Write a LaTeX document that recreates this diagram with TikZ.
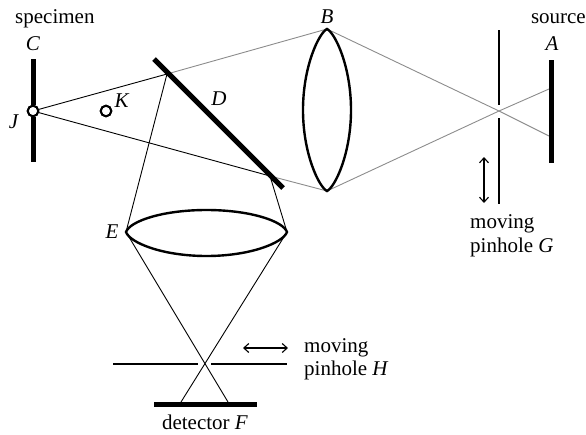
\documentclass[tikz,border=0pt]{standalone}
\usepackage{fontspec}
\setmainfont{Liberation Serif}
\usetikzlibrary{arrows.meta}
\tikzset{
  x=1pt,y=-1pt,
  lbl/.style={inner sep=0pt,font=\fontsize{21}{24}\selectfont},
  ray/.style={line width=0.9pt,black},
  gray ray/.style={line width=0.9pt,black!45},
  thickbar/.style={line width=5pt},
  slit/.style={line width=2.7pt},
  lens/.style={line width=2.4pt},
  spot/.style={circle,draw,fill=white,line width=2pt,minimum size=10.5pt,inner sep=0pt},
  move/.style={line width=1.1pt,{Straight Barb[length=5pt,width=9pt]}-{Straight Barb[length=5pt,width=9pt]}}
}
\begin{document}
\begin{tikzpicture}
\useasboundingbox (0,0) rectangle (586,434);
% points
\coordinate (C1) at (33,59); \coordinate (C2) at (33,162);
\coordinate (D1) at (154,59); \coordinate (D2) at (283,188);
\coordinate (M1) at (167,74); \coordinate (M2) at (270,176);
\coordinate (Bt) at (327,29); \coordinate (Bb) at (327,191);
\coordinate (Bl) at (303,110); \coordinate (Br) at (351,110);
\coordinate (A1) at (551,60); \coordinate (A2) at (551,163);
\coordinate (S1) at (549,89); \coordinate (S2) at (549,136);
\coordinate (G0) at (499,111);
\coordinate (Gt) at (499,30); \coordinate (Ga) at (499,105);
\coordinate (Gb) at (499,118); \coordinate (Gc) at (499,204);
\coordinate (El) at (126,232); \coordinate (Er) at (287,232);
\coordinate (Et) at (206.5,210); \coordinate (Eb) at (206.5,256);
\coordinate (H0) at (205,364);
\coordinate (Ha) at (113,364); \coordinate (Hb) at (198,364);
\coordinate (Hc) at (211,364); \coordinate (Hd) at (287,364);
\coordinate (F1) at (154,404); \coordinate (F2) at (257,404);
\coordinate (Fa) at (181,402); \coordinate (Fb) at (228,402);
\coordinate (GA1) at (484,157); \coordinate (GA2) at (484,203);
\coordinate (HA1) at (243,348); \coordinate (HA2) at (288,348);
\node[spot] (J) at (33,111) {};
\node[spot] (K) at (106,111) {};
% gray rays
\draw[gray ray] (M1) -- (Bt) -- (G0) -- (S2);
\draw[gray ray] (M2) -- (Bb) -- (G0) -- (S1);
% black rays
\draw[ray] (J) -- (M1) -- (El) -- (Fb);
\draw[ray] (J) -- (M2) -- (Er) -- (Fa);
% components
\draw[thickbar] (C1) -- (J);
\draw[thickbar] (J) -- (C2);
\draw[thickbar] (D1) -- (D2);
\draw[thickbar] (A1) -- (A2);
\draw[slit] (Gt) -- (Ga);
\draw[slit] (Gb) -- (Gc);
\draw[slit] (Ha) -- (Hb);
\draw[slit] (Hc) -- (Hd);
\draw[line width=5pt] (F1) -- (F2);
\draw[lens] (Bt) .. controls (319,33) and (303,66) .. (Bl)
            .. controls (303,154) and (319,187) .. (Bb)
            .. controls (335,187) and (351,154) .. (Br)
            .. controls (351,66) and (335,33) .. (Bt) -- cycle;
\draw[lens] (El) .. controls (130,221) and (163,210) .. (Et)
            .. controls (250,210) and (283,221) .. (Er)
            .. controls (283,243) and (250,256) .. (Eb)
            .. controls (163,256) and (130,243) .. (El) -- cycle;
\node[spot] at (J) {};
\node[spot] at (K) {};
\draw[move] (GA1) -- (GA2);
\draw[move] (HA1) -- (HA2);
% labels
\node[lbl,anchor=base west] (tspec) at (15,23) {specimen};
\node[lbl,anchor=base] (tC) at (33,50) {\textit{C}};
\node[lbl,anchor=base] (tJ) at (14,128) {\textit{J}};
\node[lbl,anchor=base] (tK) at (122,107) {\textit{K}};
\node[lbl,anchor=base] (tD) at (219,105) {\textit{D}};
\node[lbl,anchor=base] (tB) at (327,23) {\textit{B}};
\node[lbl,anchor=base east] (tsrc) at (586,23) {source};
\node[lbl,anchor=base] (tA) at (552,50) {\textit{A}};
\node[lbl,anchor=base west] (tG1) at (470,228) {moving};
\node[lbl,anchor=base west] (tG2) at (470,252) {pinhole \textit{G}};
\node[lbl,anchor=base] (tE) at (112,238) {\textit{E}};
\node[lbl,anchor=base west] (tH1) at (304,352.5) {moving};
\node[lbl,anchor=base west] (tH2) at (304,375.5) {pinhole \textit{H}};
\node[lbl,anchor=base] (tF) at (205,429.5) {detector \textit{F}};
\end{tikzpicture}
\end{document}
